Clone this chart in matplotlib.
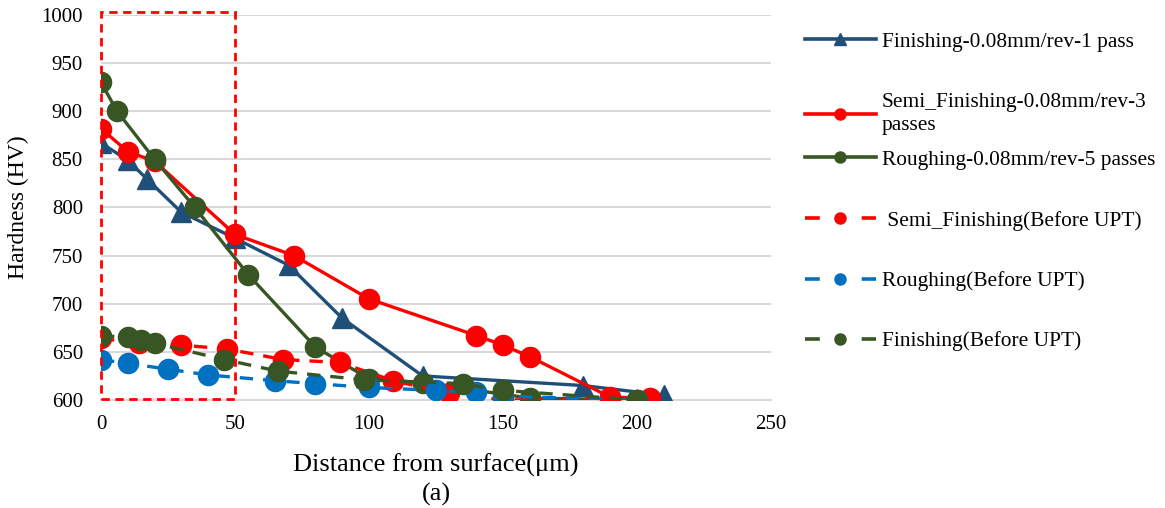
import matplotlib.pyplot as plt
from matplotlib.patches import Rectangle
from matplotlib.lines import Line2D

plt.rcParams['font.family'] = ['Liberation Serif', 'DejaVu Serif']

# hardness profiles after UPT
fin_x = [0, 10, 17, 30, 50, 70, 90, 120, 180, 210]
fin_y = [867, 849, 830, 795, 768, 740, 685, 625, 615, 605]

semi_x = [0, 10, 20, 50, 72, 100, 140, 150, 160, 190, 205]
semi_y = [882, 858, 848, 772, 750, 705, 667, 657, 645, 603, 602]

rough_x = [0, 6, 20, 35, 55, 80, 100, 120, 160, 200]
rough_y = [930, 900, 850, 800, 730, 655, 622, 618, 602, 600]

# hardness profiles before UPT
semi_b_x = [0, 14, 30, 47, 68, 89, 109, 130, 150, 190]
semi_b_y = [664, 659, 657, 653, 642, 639, 620, 607, 600, 601]

rough_b_x = [0, 10, 25, 40, 65, 80, 100, 125, 140, 150, 200]
rough_b_y = [642, 638, 632, 626, 620, 617, 613, 610, 608, 604, 600]

fin_b_x = [0, 10, 15, 20, 46, 66, 98, 135, 150, 200]
fin_b_y = [667, 665, 662, 659, 642, 630, 621, 617, 610, 600]

labels = ['Finishing-0.08mm/rev-1 pass',
          'Semi_Finishing-0.08mm/rev-3\npasses',
          'Roughing-0.08mm/rev-5 passes',
          ' Semi_Finishing(Before UPT)',
          'Roughing(Before UPT)',
          'Finishing(Before UPT)']

navy = '#1F4E79'
red = '#FF0000'
green = '#375623'
blue = '#0070C0'

fig = plt.figure(figsize=(11.65, 5.08), dpi=100)
ax = fig.add_axes([0.0867, 0.2126, 0.5751, 0.7579])

lw = 2.4
ms = 14.5
dash = (0, (4, 3))

h1, = ax.plot(fin_x, fin_y, color=navy, lw=lw, marker='^', ms=ms, zorder=3)
h2, = ax.plot(semi_x, semi_y, color=red, lw=lw, marker='o', ms=ms, zorder=3)
h3, = ax.plot(rough_x, rough_y, color=green, lw=lw, marker='o', ms=ms, zorder=3)
h4, = ax.plot(semi_b_x, semi_b_y, color=red, lw=lw, ls=dash, marker='o', ms=ms, zorder=3)
h5, = ax.plot(rough_b_x, rough_b_y, color=blue, lw=lw, ls=dash, marker='o', ms=ms, zorder=3)
h6, = ax.plot(fin_b_x, fin_b_y, color=green, lw=lw, ls=dash, marker='o', ms=ms, zorder=3)

# highlighted near-surface zone
ax.add_patch(Rectangle((0, 601), 50, 402, fill=False, edgecolor=red,
                       lw=2, ls=(0, (3, 2)), clip_on=False, zorder=4))

ax.set_xlim(0, 250)
ax.set_ylim(600, 1000)
ax.set_xticks(range(0, 251, 50))
ax.set_yticks(range(600, 1001, 50))
ax.tick_params(axis='both', length=0, labelsize=15)
ax.tick_params(axis='x', pad=11)
ax.tick_params(axis='y', pad=13)
ax.yaxis.grid(True, color='#d9d9d9', lw=1.5)
ax.set_axisbelow(True)
for s in ['left', 'top', 'right']:
    ax.spines[s].set_visible(False)
ax.spines['bottom'].set_color('#d9d9d9')
ax.spines['bottom'].set_linewidth(1.5)

ax.set_ylabel('Hardness (HV)', fontsize=17, labelpad=9)
ax.set_xlabel('Distance from surface(\u03bcm)\n(a)', fontsize=19, labelpad=14,
              linespacing=1.35)

# legend entries, one per row
rows = [42, 100, 160, 221, 281, 341]
handles = [h1, h2, h3, h4, h5, h6]
for h, lab, y in zip(handles, labels, rows):
    ls = h.get_linestyle()
    if ls != '-':
        ls = (0, (4.1, 11.6))
    proxy = Line2D([], [], color=h.get_color(), lw=2.6, ls=ls,
                   marker=h.get_marker(), ms=8)
    yfig = 1 - y / 508
    if '\n' in lab:
        yfig -= 14 / 508
    leg = fig.legend(handles=[proxy], labels=[lab], loc='center left',
                     bbox_to_anchor=(805 / 1165, yfig), frameon=False,
                     fontsize=15.4, handlelength=3.3, handletextpad=0.3,
                     borderpad=0, borderaxespad=0)
    leg.get_texts()[0].set_linespacing(1.35)

fig.savefig('out.png', dpi=100)
